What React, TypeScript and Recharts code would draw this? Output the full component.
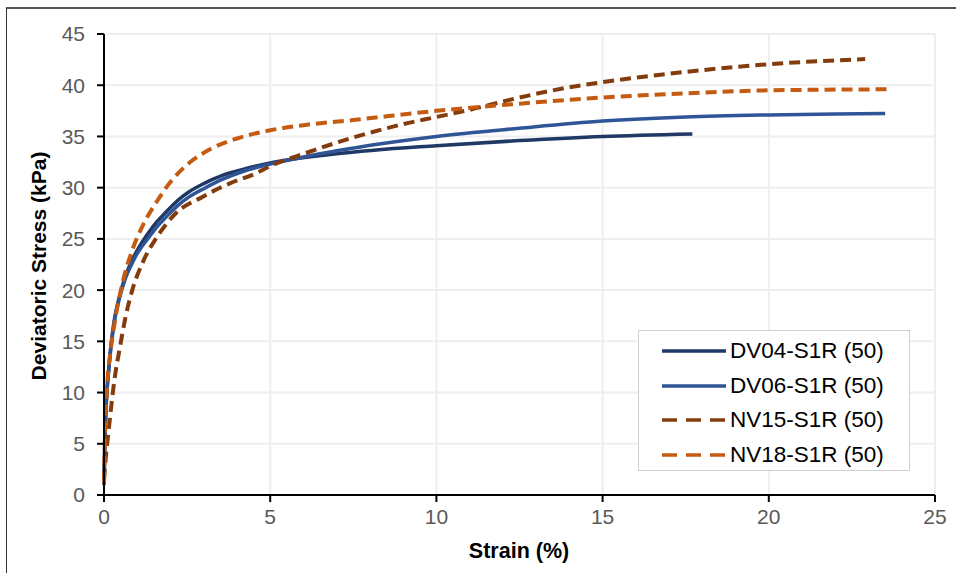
import { LineChart, Line, XAxis, YAxis, CartesianGrid } from "recharts";

// strain (%) / deviatoric stress (kPa)
const dv04Strain = [0, 0.02, 0.05, 0.15, 0.3, 0.45, 0.65, 0.8, 0.95, 1.15, 1.36, 1.6, 1.86, 2.2, 2.56, 3.0, 3.56, 4.2, 5.0, 7.0, 10.0, 12.5, 15.0, 17.7];
const dv04Stress = [1.0, 4.5, 7.6, 12.6, 16.9, 19.2, 21.4, 22.6, 23.6, 24.7, 25.7, 26.7, 27.6, 28.7, 29.6, 30.4, 31.2, 31.8, 32.4, 33.3, 34.1, 34.6, 35.0, 35.25];

const dv06Strain = [0, 0.02, 0.05, 0.15, 0.3, 0.45, 0.65, 0.8, 0.95, 1.15, 1.36, 1.6, 1.86, 2.2, 2.56, 3.0, 3.56, 4.2, 5.0, 7.0, 10.0, 12.5, 15.0, 17.5, 20.0, 22.0, 23.5];
const dv06Stress = [1.0, 4.5, 7.6, 12.5, 16.7, 19.0, 21.2, 22.3, 23.3, 24.3, 25.2, 26.2, 27.1, 28.2, 29.1, 29.9, 30.8, 31.6, 32.3, 33.6, 35.0, 35.8, 36.5, 36.9, 37.1, 37.2, 37.25];

const nv15Strain = [0, 0.05, 0.15, 0.3, 0.5, 0.65, 0.85, 1.15, 1.66, 2.16, 2.96, 3.77, 4.57, 5.0, 6.0, 7.5, 9.0, 10.0, 11.0, 12.5, 14.0, 15.0, 17.5, 20.0, 22.9];
const nv15Stress = [1.5, 3.5, 6.6, 10.9, 14.8, 17.4, 20.0, 22.6, 25.5, 27.5, 29.1, 30.4, 31.4, 32.1, 33.3, 34.9, 36.2, 36.9, 37.6, 38.8, 39.8, 40.3, 41.3, 42.05, 42.55];

const nv18Strain = [0, 0.03, 0.1, 0.2, 0.35, 0.55, 0.85, 1.15, 1.56, 2.06, 2.56, 3.16, 4.0, 5.0, 6.0, 7.5, 10.0, 12.5, 15.0, 17.5, 20.0, 23.55];
const nv18Stress = [1.1, 6.0, 10.9, 14.1, 17.4, 20.6, 23.9, 26.2, 28.5, 30.8, 32.4, 33.7, 34.8, 35.6, 36.1, 36.6, 37.5, 38.2, 38.8, 39.2, 39.5, 39.6];

const xTicks = [0, 5, 10, 15, 20, 25];
const yTicks = [0, 5, 10, 15, 20, 25, 30, 35, 40, 45];

const toPoints = (xs: number[], ys: number[]) => xs.map((x, i) => ({ x, y: ys[i] }));

const series = [
  { name: "DV04-S1R (50)", data: toPoints(dv04Strain, dv04Stress), color: "#1F3864", dash: undefined },
  { name: "DV06-S1R (50)", data: toPoints(dv06Strain, dv06Stress), color: "#2F5597", dash: undefined },
  { name: "NV15-S1R (50)", data: toPoints(nv15Strain, nv15Stress), color: "#843C0C", dash: "11 6" },
  { name: "NV18-S1R (50)", data: toPoints(nv18Strain, nv18Stress), color: "#C55A11", dash: "11 6" },
];

const FONT = "'Liberation Sans', Arial, sans-serif";

function LegendBox() {
  return (
    <div
      style={{
        position: "absolute",
        left: 638,
        top: 330,
        border: "1.5px solid #d0d0d0",
        background: "#fff",
        width: 272,
        height: 141,
        boxSizing: "border-box",
        padding: "3px 0 0 22px",
        fontFamily: FONT,
        fontSize: 22.5,
        color: "#000",
      }}
    >
      {series.map((s) => (
        <div key={s.name} style={{ display: "flex", alignItems: "center", height: 34.5 }}>
          <svg width={66} height={10} style={{ marginRight: 3 }}>
            <line x1={1} y1={5} x2={65} y2={5} stroke={s.color} strokeWidth={3.5} strokeDasharray={s.dash ? "15 9" : undefined} />
          </svg>
          <span>{s.name}</span>
        </div>
      ))}
    </div>
  );
}

export default function App() {
  return (
    <div style={{ position: "absolute", left: 0, top: 0, width: 956, height: 573, background: "#fff" }}>
      <div style={{ position: "absolute", left: 6, top: 7, width: 950, height: 566, borderLeft: "1.5px solid #333", borderTop: "2px solid #555" }} />
      <div style={{ position: "absolute", left: 0, top: 0 }}>
        <LineChart width={956} height={573} margin={{ top: 34, right: 21, bottom: 0, left: 0 }}>
          <CartesianGrid stroke="#eeeeee" strokeWidth={2} />
          <XAxis
            type="number"
            dataKey="x"
            domain={[0, 25]}
            ticks={xTicks}
            height={78}
            stroke="#000"
            strokeWidth={2}
            tickSize={7}
            tickMargin={7}
            tick={{ fill: "#595959", fontSize: 21, fontFamily: FONT }}
            label={{
              content: () => (
                <text x={519} y={558} textAnchor="middle" fontFamily={FONT} fontWeight="bold" fontSize={21.5} fill="#000">
                  Strain (%)
                </text>
              ),
            }}
          />
          <YAxis
            type="number"
            dataKey="y"
            domain={[0, 45]}
            ticks={yTicks}
            width={104}
            stroke="#000"
            strokeWidth={2}
            tickSize={7}
            tickMargin={12}
            tick={{ fill: "#595959", fontSize: 21, fontFamily: FONT }}
            label={{
              content: () => (
                <text
                  x={40}
                  y={266}
                  transform="rotate(-90 40 266)"
                  textAnchor="middle"
                  dominantBaseline="middle"
                  fontFamily={FONT}
                  fontWeight="bold"
                  fontSize={21}
                  fill="#000"
                >
                  Deviatoric Stress (kPa)
                </text>
              ),
            }}
          />
          {series.map((s) => (
            <Line
              key={s.name}
              data={s.data}
              dataKey="y"
              name={s.name}
              type="monotone"
              stroke={s.color}
              strokeWidth={s.dash ? 4 : 3.5}
              strokeDasharray={s.dash}
              dot={false}
              isAnimationActive={false}
            />
          ))}
        </LineChart>
      </div>
      <LegendBox />
    </div>
  );
}
